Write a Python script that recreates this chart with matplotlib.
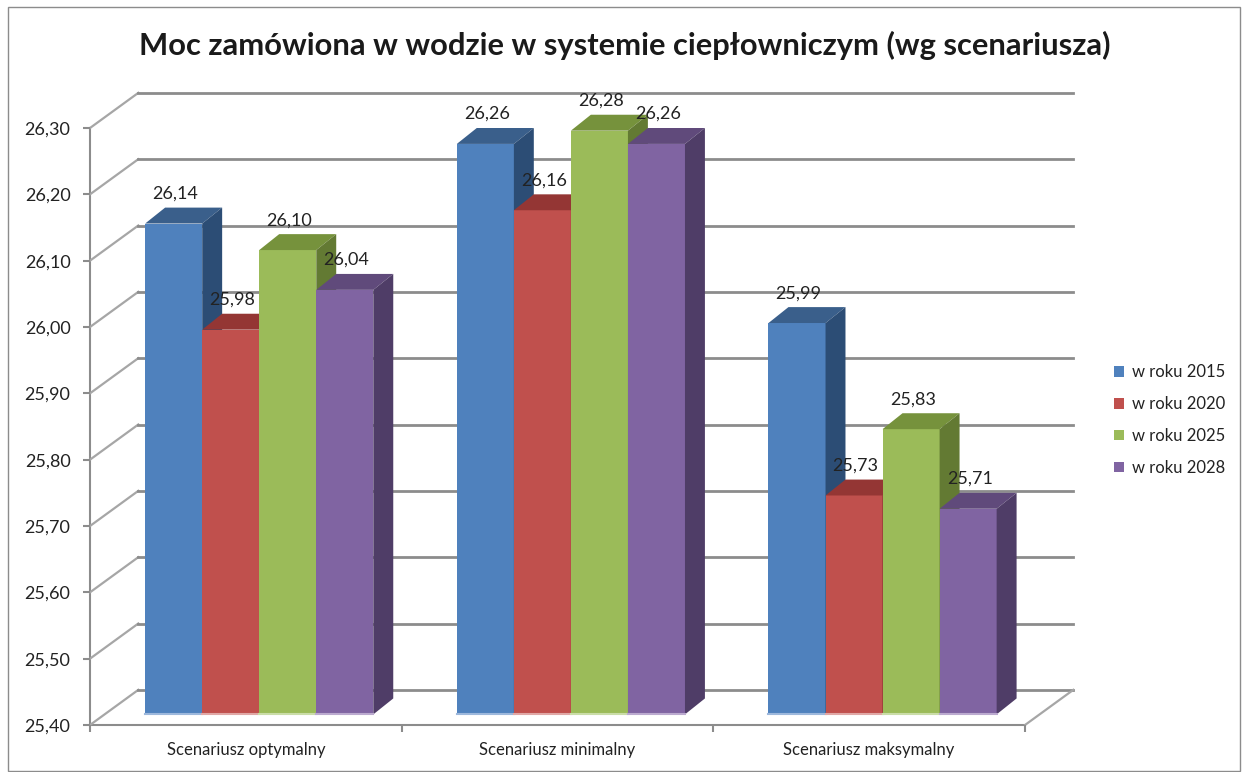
import matplotlib.pyplot as plt
from matplotlib.patches import Polygon, Patch, Rectangle

plt.rcParams['font.family'] = ['Lato', 'DejaVu Sans']

# Dane
scenariusze = ['Scenariusz optymalny', 'Scenariusz minimalny', 'Scenariusz maksymalny']
serie = ['w roku 2015', 'w roku 2020', 'w roku 2025', 'w roku 2028']
w_roku_2015 = [26.14, 26.26, 25.99]
w_roku_2020 = [25.98, 26.16, 25.73]
w_roku_2025 = [26.10, 26.28, 25.83]
w_roku_2028 = [26.04, 26.26, 25.71]
wartosci = [w_roku_2015, w_roku_2020, w_roku_2025, w_roku_2028]
yticks = [25.40, 25.50, 25.60, 25.70, 25.80, 25.90, 26.00, 26.10, 26.20, 26.30]

kolory = ['#4F81BD', '#C0504D', '#9BBB59', '#8064A2']
kolory_gora = ['#3A5F8B', '#943634', '#76923C', '#604A7B']
kolory_bok = ['#2C4D75', '#7A2C2A', '#637A33', '#4F3D67']
kolory_dol = ['#9DB8DC', '#E0A8A6', '#CADDA8', '#BBAACF']

# efekt 3D (przesuniecia w jednostkach danych)
dxw, dyw = 0.155, 0.053      # tylna sciana
dx0, dy0 = 0.043, 0.016      # przod slupka
ddx, ddy = 0.064, 0.024      # glebokosc slupka
szer = 0.183
baza = 25.40
szary = '#8C8C8C'

fig = plt.figure(figsize=(12.42, 7.72), dpi=100)
ax = fig.add_axes([90 / 1242, 47 / 772, 935 / 1242, 597 / 772])
ax.set_xlim(0, 3)
ax.set_ylim(25.40, 26.30)

# siatka na tylnej scianie + skosne linie
for t in yticks:
    ax.plot([0, dxw], [t, t + dyw], color='#A6A6A6', lw=1.6, clip_on=False, zorder=1)
    ax.plot([dxw, 3 + dxw], [t + dyw, t + dyw], color=szary, lw=2, clip_on=False, zorder=1)
ax.plot([3, 3 + dxw], [baza, baza + dyw], color='#A6A6A6', lw=1.6, clip_on=False, zorder=1)

# slupki
z = 2
for i in range(3):
    for j in range(4):
        v = wartosci[j][i]
        xl = i + 0.5 + (j - 2) * szer + dx0
        ax.bar(xl, v - baza, bottom=baza + dy0, width=szer, align='edge',
               color=kolory[j], lw=0, zorder=z)
        top = [(xl, v + dy0), (xl + szer, v + dy0),
               (xl + szer + ddx, v + dy0 + ddy), (xl + ddx, v + dy0 + ddy)]
        ax.add_patch(Polygon(top, closed=True, facecolor=kolory_gora[j], lw=0,
                             zorder=z, clip_on=False))
        bok = [(xl + szer, baza + dy0), (xl + szer + ddx, baza + dy0 + ddy),
               (xl + szer + ddx, v + dy0 + ddy), (xl + szer, v + dy0)]
        ax.add_patch(Polygon(bok, closed=True, facecolor=kolory_bok[j], lw=0,
                             zorder=z, clip_on=False))
        ax.plot([xl, xl + szer], [baza + dy0, baza + dy0], color=kolory_dol[j],
                lw=1.5, zorder=z + 0.5)
        ax.annotate(f'{v:.2f}'.replace('.', ','), (xl + szer / 2 + 0.005, v + dy0 + ddy),
                    xytext=(0, 10), textcoords='offset points', ha='center',
                    va='center', fontsize=13, color='#222222', zorder=50,
                    annotation_clip=False)
        z += 1

# osie
for s in ['top', 'right']:
    ax.spines[s].set_visible(False)
for s in ['left', 'bottom']:
    ax.spines[s].set_color(szary)
    ax.spines[s].set_linewidth(1.5)
    ax.spines[s].set_zorder(0.5)
ax.set_yticks(yticks)
ax.set_yticklabels([f'{t:.2f}'.replace('.', ',') for t in yticks])
ax.tick_params(axis='y', length=5, width=1.5, color=szary, pad=9, labelsize=13,
               labelcolor='#222222')
ax.set_xticks([0, 1, 2, 3])
ax.set_xticklabels([])
ax.set_xticks([0.5, 1.5, 2.5], minor=True)
ax.set_xticklabels(scenariusze, minor=True)
ax.tick_params(axis='x', which='major', length=5, width=1.5, color=szary)
ax.tick_params(axis='x', which='minor', length=0, pad=12, labelsize=12,
               labelcolor='#222222')

# legenda
uchwyty = [Patch(facecolor=kolory[j], label=serie[j]) for j in range(4)]
fig.legend(handles=uchwyty, loc='center left', bbox_to_anchor=(1099 / 1242, 1 - 420 / 772),
           frameon=False, fontsize=12, handlelength=0.6, handleheight=0.6,
           handletextpad=0.5, labelspacing=0.95, labelcolor='#222222')

# tytul
fig.text(625 / 1242, 1 - 45 / 772, 'Moc zamówiona w wodzie w systemie ciepłowniczym (wg scenariusza)',
         ha='center', va='center', fontsize=22.2, fontweight='bold', color='#1A1A1A')

# ramka wykresu
fig.patches.append(Rectangle((8 / 1242, 1 / 772), 1232 / 1242, 764 / 772,
                             transform=fig.transFigure, fill=False,
                             edgecolor=szary, lw=1))

plt.savefig('out.png', dpi=100)
